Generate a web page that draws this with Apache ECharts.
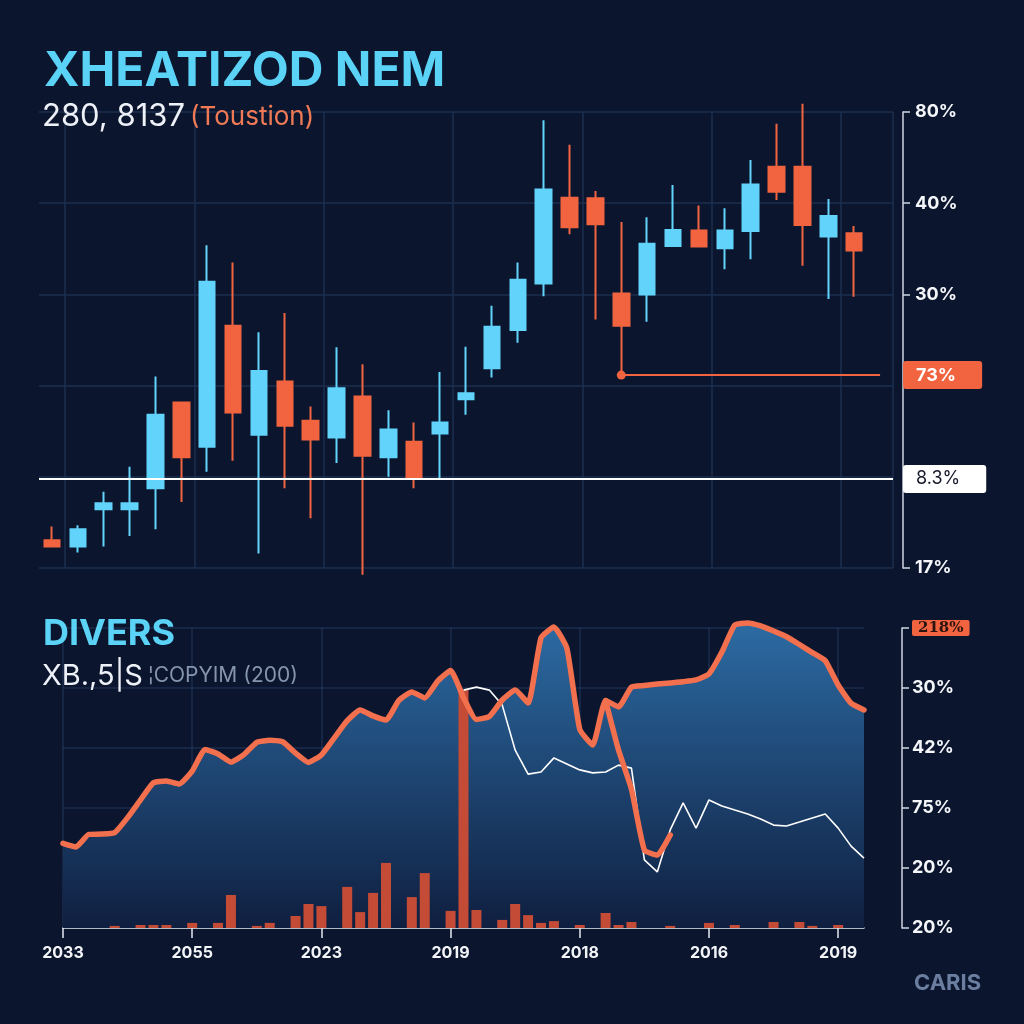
<!DOCTYPE html>
<html>
<head>
<meta charset="utf-8">
<script src="https://cdn.jsdelivr.net/npm/echarts@6/dist/echarts.min.js"></script>
<style>
  html, body { margin: 0; padding: 0; background: #0b162e; }
  #c { width: 1024px; height: 1024px; }
</style>
</head>
<body>
<div id="c"></div>
<script>
// ---------- DATA ----------
// Upper panel candles: [open, close, lowest, highest]
const candles = [
  [6.1, 4.7, 4.7, 9.1],
  [4.7, 8.5, 3.4, 9.4],
  [12.9, 14.2, 4.7, 16.7],
  [12.9, 14.2, 7.0, 22.2],
  [17.5, 33.6, 8.5, 42.0],
  [36.3, 24.3, 14.5, 36.3],
  [26.6, 62.8, 21.1, 70.8],
  [53.1, 34.1, 23.5, 67.0],
  [29.2, 43.2, 3.2, 51.7],
  [40.9, 31.2, 17.5, 55.9],
  [32.3, 28.2, 10.9, 35.4],
  [28.6, 39.4, 23.0, 48.4],
  [37.6, 24.6, -1.5, 44.7],
  [24.3, 30.4, 20.0, 34.6],
  [27.7, 19.5, 17.5, 31.9],
  [29.5, 31.9, 19.5, 43.0],
  [37.0, 38.3, 33.6, 48.5],
  [43.8, 52.9, 41.8, 57.5],
  [52.2, 63.2, 49.4, 67.0],
  [62.4, 83.0, 59.6, 98.2],
  [81.2, 74.7, 73.2, 92.8],
  [81.1, 75.4, 54.5, 82.7],
  [60.2, 53.1, 42.3, 75.9],
  [60.0, 71.1, 54.0, 76.9],
  [70.6, 74.1, 70.6, 84.0],
  [74.0, 70.5, 70.5, 79.5],
  [70.1, 74.0, 65.5, 78.9],
  [73.9, 84.1, 67.7, 89.5],
  [88.0, 82.5, 80.7, 97.4],
  [88.0, 75.2, 66.3, 101.8],
  [72.7, 77.2, 59.0, 80.9],
  [73.4, 69.6, 59.5, 75.0]
];
const topAxisLabels = ['17%', '', '', '30%', '40%', '80%'];
const markOrangeCandle = 22;
const markOrangeValue = 42.3;
const markOrangeText = '73%';
const markWhiteValue = 19.5;
const markWhiteText = '8.3%';

// Lower panel
const xTickLabels = ['2033', '2055', '2023', '2019', '2018', '2016', '2019'];
const bottomAxisLabels = ['20%', '20%', '75%', '42%', '30%', '218%'];
const areaValues = [
  28.2, 27, 31.2, 31.3, 31.8, 36.8, 42.7, 48.4, 49, 48,
  52.3, 59.5, 58, 55.3, 57.8, 61.9, 62.6, 62.1, 58.3, 55.2,
  57.7, 63.4, 69.1, 72.7, 70.7, 69.3, 75.9, 78.7, 76.7, 82.3,
  85.8, 76.8, 69.5, 70.5, 76, 79.3, 75, 96.7, 100.3, 93.3,
  66.2, 61, 75.8, 73.7, 80.3, 80.8, 81.3, 81.7, 82.1, 82.7,
  84.7, 92, 101, 101.7, 100.7, 99, 97.1, 94.5, 91.8, 89.1,
  81, 74.9, 72.7
];
const whiteValues = [
  null, null, null, null, null, null, null, null, null, null,
  null, null, null, null, null, null, null, null, null, null,
  null, null, null, null, null, null, null, null, null, null,
  null, 79.3, 80.3, 79.3, 74.3, 59.3, 51.3, 52, 56.7, 54.7,
  52.7, 51.7, 52, 54.3, 53.3, 22.7, 18.7, 32.7, 41.7, 33.3,
  42.7, 40.7, 39.3, 38, 36.3, 34.3, 34, 35.3, 36.7, 38,
  33.3, 27.3, 23.3
];
const branchValues = [
  null, null, null, null, null, null, null, null, null, null,
  null, null, null, null, null, null, null, null, null, null,
  null, null, null, null, null, null, null, null, null, null,
  null, null, null, null, null, null, null, null, null, null,
  null, null, 75.8, 59.3, 46.3, 26, 24.3, 31, null, null,
  null, null, null, null, null, null, null, null, null, null,
  null, null, null
];
const barValues = [
  0, 0, 0, 0, 0.7, 0, 1, 1, 1, 0,
  1.7, 0, 1.7, 11, 0, 0.7, 1.7, 0, 4, 8,
  7.3, 0, 13.7, 5.3, 11.7, 21.7, 0, 10.3, 18.3, 0,
  5.7, 79.3, 6, 0, 2.7, 8, 4.3, 1.7, 2.3, 0,
  1, 0, 5, 1, 2, 0, 0, 0.7, 0, 0,
  1.7, 0, 1, 0, 0, 2, 0, 2, 0.7, 0,
  1, 0, 0
];

// ---------- STYLE ----------
const BG = '#0b162e';
const CYAN = '#62d3fa';
const ORANGE = '#f26440';
const LINE_OR = '#f3704e';
const GRIDC = '#1c2f4f';
const FONT = 'Inter, Roboto, "Noto Sans", sans-serif';

const topCats = candles.map((_, i) => String(i)).concat(['']);
const bottomCats = areaValues.map((_, i) => String(i));

const chart = echarts.init(document.getElementById('c'));
chart.setOption({
  backgroundColor: BG,
  animation: false,
  textStyle: { fontFamily: FONT },
  title: [
    {
      text: 'XHEATIZOD NEM', left: 44, top: 47, padding: 0,
      textStyle: { color: '#5bd3f7', fontSize: 48, fontWeight: 'bold', fontFamily: FONT, lineHeight: 50 }
    },
    {
      text: '{a|280, 8137} {b|(Toustion)}', left: 42, top: 99, padding: 0,
      textStyle: {
        fontWeight: 'normal',
        rich: {
          a: { color: '#eef2f8', fontSize: 31, fontFamily: FONT, fontWeight: 'normal', lineHeight: 36 },
          b: { color: '#f07a55', fontSize: 26, fontFamily: FONT, fontWeight: 'normal', lineHeight: 36 }
        }
      }
    },
    {
      text: 'DIVERS', left: 43, top: 615, padding: 0,
      textStyle: { color: '#5bd3f7', fontSize: 36, fontWeight: 'bold', fontFamily: FONT, lineHeight: 38 }
    },
    {
      text: '{a|XB.,5|S} {b|¦COPYIM (200)}', left: 42, top: 660, padding: 0,
      textStyle: {
        fontWeight: 'normal',
        rich: {
          a: { color: '#eef2f8', fontSize: 29, fontFamily: FONT, fontWeight: 'normal', lineHeight: 32 },
          b: { color: '#8794ad', fontSize: 21, fontFamily: FONT, fontWeight: 'normal', lineHeight: 32 }
        }
      }
    },
    {
      text: 'CARIS', left: 914, top: 972, padding: 0,
      textStyle: { color: '#6b7ea0', fontSize: 22, fontWeight: 'bold', fontFamily: FONT }
    }
  ],
  grid: [
    { left: 39, right: 131, top: 112, bottom: 456 },
    { left: 63, right: 160, top: 628, bottom: 96 }
  ],
  xAxis: [
    {
      type: 'category', gridIndex: 0, data: topCats, boundaryGap: true,
      axisLine: { show: false }, axisTick: { show: false }, axisLabel: { show: false },
      splitLine: { show: true, interval: (i) => i % 5 === 1, lineStyle: { color: GRIDC, width: 1.5 } }
    },
    {
      type: 'category', gridIndex: 1, data: bottomCats, boundaryGap: false,
      axisLine: { show: true, lineStyle: { color: '#e6eaf1', width: 1.5 } },
      axisTick: { show: true, interval: 9, length: 10, lineStyle: { color: '#e6eaf1', width: 1.5 } },
      axisLabel: {
        interval: 9, formatter: (v, i) => xTickLabels[Math.round(i / 10)] || '',
        color: '#f2f4f8', fontSize: 16, fontWeight: 'bold', margin: 17
      },
      splitLine: { show: true, interval: 9, lineStyle: { color: 'rgba(40,64,100,0.55)', width: 1.5 } }
    }
  ],
  yAxis: [
    {
      type: 'value', gridIndex: 0, position: 'right', offset: 10, min: 0, max: 100, interval: 20,
      axisLine: { show: true, lineStyle: { color: '#cfd6e2', width: 1.5 } },
      axisTick: { show: true, length: 7, lineStyle: { color: '#cfd6e2', width: 1.5 } },
      axisLabel: {
        formatter: (v) => topAxisLabels[Math.round(v / 20)] || '',
        color: '#f4f6fa', fontSize: 18, fontWeight: 'bold', margin: 12
      },
      splitLine: { show: true, lineStyle: { color: GRIDC, width: 1.5 } }
    },
    {
      type: 'value', gridIndex: 1, position: 'right', offset: 38, min: 0, max: 100, interval: 20,
      axisLine: { show: true, lineStyle: { color: '#cfd6e2', width: 1.5 } },
      axisTick: { show: true, length: 7, lineStyle: { color: '#cfd6e2', width: 1.5 } },
      axisLabel: {
        formatter: (v) => {
          const t = bottomAxisLabels[Math.round(v / 20)] || '';
          return Math.round(v) === 100 ? '{b|' + t + '}' : t;
        },
        color: '#f4f6fa', fontSize: 18, fontWeight: 'bold', margin: 10,
        rich: {
          b: {
            backgroundColor: ORANGE, color: '#2a1410', fontSize: 15, fontFamily: '"DejaVu Serif", serif',
            padding: [1, 6, 0, 6], borderRadius: 2
          }
        }
      },
      splitLine: { show: true, lineStyle: { color: 'rgba(40,64,100,0.55)', width: 1.5 } }
    }
  ],
  series: [
    {
      type: 'candlestick', xAxisIndex: 0, yAxisIndex: 0, data: candles,
      barWidth: 16, clip: false,
      itemStyle: { color: CYAN, color0: ORANGE, borderColor: CYAN, borderColor0: ORANGE, borderWidth: 2 },
      markLine: {
        silent: true, symbol: ['none', 'none'], animation: false,
        data: [
          [
            {
              coord: [markOrangeCandle, markOrangeValue], symbol: 'circle', symbolSize: 9,
              lineStyle: { color: ORANGE, width: 2, type: 'solid' },
              label: {
                show: true, position: 'end', formatter: markOrangeText, distance: 23,
                color: '#ffffff', fontSize: 18, fontWeight: 'bold', backgroundColor: ORANGE,
                padding: [5, 26, 5, 13], borderRadius: 3
              }
            },
            { coord: [candles.length, markOrangeValue], symbol: 'none' }
          ],
          {
            yAxis: markWhiteValue,
            lineStyle: { color: '#ffffff', width: 2, type: 'solid' },
            label: {
              show: true, position: 'end', formatter: markWhiteText, distance: 10,
              color: '#15182a', fontSize: 18, backgroundColor: '#ffffff',
              padding: [5, 26, 5, 13], borderRadius: 3
            }
          }
        ]
      }
    },
    {
      type: 'line', xAxisIndex: 1, yAxisIndex: 1, data: areaValues, z: 1,
      symbol: 'none', smooth: 0.15, clip: false,
      lineStyle: { width: 0 },
      areaStyle: {
        opacity: 1,
        color: new echarts.graphic.LinearGradient(0, 0, 0, 1, [
          { offset: 0, color: '#2c6ba3' },
          { offset: 1, color: '#0f1f40' }
        ])
      }
    },
    {
      type: 'bar', xAxisIndex: 1, yAxisIndex: 1, data: barValues, z: 2,
      barWidth: 10, itemStyle: { color: '#c44b36' }
    },
    {
      type: 'line', xAxisIndex: 1, yAxisIndex: 1, data: whiteValues, z: 3,
      symbol: 'none', clip: false,
      lineStyle: { color: '#ffffff', width: 1.6 }
    },
    {
      type: 'line', xAxisIndex: 1, yAxisIndex: 1, data: areaValues, z: 4,
      symbol: 'none', smooth: 0.15, clip: false,
      lineStyle: { color: LINE_OR, width: 5.5, cap: 'round', join: 'round' }
    },
    {
      type: 'line', xAxisIndex: 1, yAxisIndex: 1, data: branchValues, z: 4,
      symbol: 'none', smooth: 0.15, clip: false,
      lineStyle: { color: LINE_OR, width: 5.5, cap: 'round', join: 'round' }
    }
  ]
});
</script>
</body>
</html>
